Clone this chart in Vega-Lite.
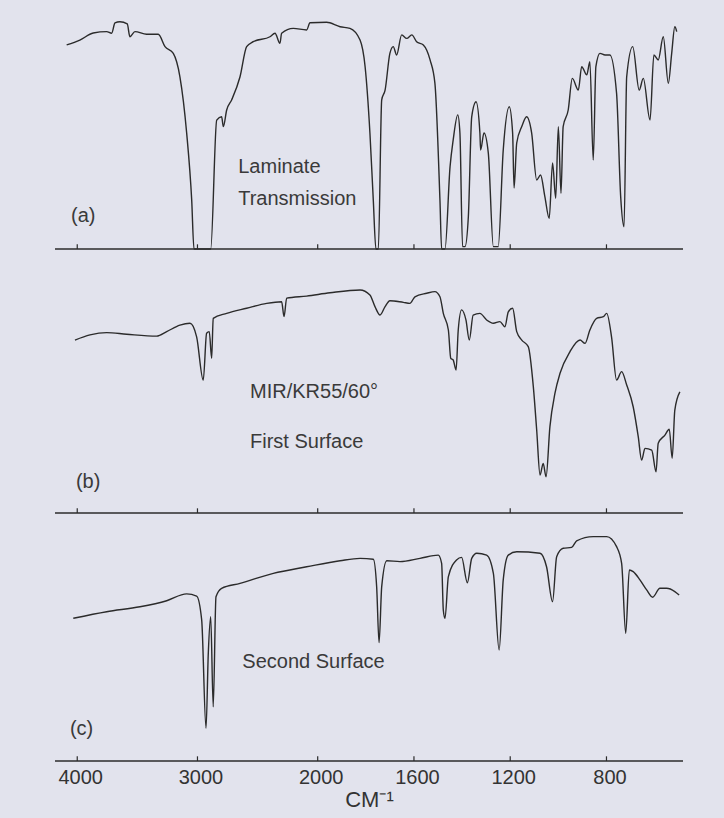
{
  "$schema": "https://vega.github.io/schema/vega-lite/v6.json",
  "width": 628,
  "height": 751,
  "autosize": "none",
  "padding": {"left": 55, "top": 10, "right": 41, "bottom": 57},
  "background": "#e2e3ed",
  "config": {
    "view": {"stroke": null},
    "font": "Liberation Sans",
    "axisX": {
      "domain": false, "ticks": false, "grid": false, "format": "d",
      "labelFont": "Liberation Sans", "labelFontSize": 20, "labelColor": "#333333",
      "labelPadding": 6, "labelOffset": 3, "labelOverlap": false, "labelFlush": false,
      "titleFont": "Liberation Sans", "titleFontSize": 22, "titleFontWeight": "normal",
      "titleColor": "#333333", "titlePadding": 2
    }
  },
  "datasets": {
    "a": [
      {"wn": 4088, "T": 87.2}, {"wn": 3978, "T": 89.3}, {"wn": 3867, "T": 92.3}, {"wn": 3755, "T": 92.9},
      {"wn": 3714, "T": 92.2}, {"wn": 3686, "T": 96.6}, {"wn": 3645, "T": 97.1}, {"wn": 3584, "T": 96.2},
      {"wn": 3562, "T": 90.7}, {"wn": 3520, "T": 92.9}, {"wn": 3423, "T": 91.8}, {"wn": 3326, "T": 91.8},
      {"wn": 3270, "T": 86.5}, {"wn": 3201, "T": 83.6}, {"wn": 3146, "T": 73.6}, {"wn": 3090, "T": 49.6},
      {"wn": 3048, "T": 20.9}, {"wn": 3029, "T": 0}, {"wn": 2890, "T": 0}, {"wn": 2840, "T": 55.1},
      {"wn": 2799, "T": 56.5}, {"wn": 2785, "T": 52.3}, {"wn": 2757, "T": 59.4}, {"wn": 2716, "T": 63.7},
      {"wn": 2646, "T": 73.6}, {"wn": 2591, "T": 86.5}, {"wn": 2536, "T": 88.6}, {"wn": 2397, "T": 90.7},
      {"wn": 2355, "T": 92.2}, {"wn": 2314, "T": 87.9}, {"wn": 2300, "T": 92.2}, {"wn": 2203, "T": 94.3},
      {"wn": 2092, "T": 93.6}, {"wn": 2064, "T": 96.7}, {"wn": 1963, "T": 96.9}, {"wn": 1907, "T": 95.0},
      {"wn": 1866, "T": 94.3}, {"wn": 1824, "T": 89.3}, {"wn": 1803, "T": 77.9}, {"wn": 1783, "T": 49.6},
      {"wn": 1769, "T": 20.9}, {"wn": 1758, "T": 0}, {"wn": 1748, "T": 0}, {"wn": 1734, "T": 63.7},
      {"wn": 1720, "T": 67.9}, {"wn": 1700, "T": 83.6}, {"wn": 1686, "T": 86.5}, {"wn": 1672, "T": 82.9},
      {"wn": 1651, "T": 91.5}, {"wn": 1630, "T": 90.0}, {"wn": 1609, "T": 91.5}, {"wn": 1589, "T": 88.6},
      {"wn": 1561, "T": 87.2}, {"wn": 1533, "T": 80.8}, {"wn": 1513, "T": 70.9}, {"wn": 1492, "T": 20.9},
      {"wn": 1485, "T": 0}, {"wn": 1471, "T": 0}, {"wn": 1450, "T": 35.2}, {"wn": 1437, "T": 46.6},
      {"wn": 1418, "T": 57.3}, {"wn": 1409, "T": 49.6}, {"wn": 1398, "T": 1}, {"wn": 1388, "T": 1},
      {"wn": 1374, "T": 13.8}, {"wn": 1360, "T": 56.5}, {"wn": 1342, "T": 62.9}, {"wn": 1326, "T": 49.6},
      {"wn": 1323, "T": 42.3}, {"wn": 1309, "T": 49.6}, {"wn": 1291, "T": 41.0}, {"wn": 1270, "T": 1},
      {"wn": 1250, "T": 1}, {"wn": 1229, "T": 42.3}, {"wn": 1204, "T": 60.8}, {"wn": 1190, "T": 49.6},
      {"wn": 1184, "T": 26.1}, {"wn": 1173, "T": 45.3}, {"wn": 1152, "T": 52.3}, {"wn": 1132, "T": 56.5},
      {"wn": 1111, "T": 49.6}, {"wn": 1090, "T": 29.5}, {"wn": 1074, "T": 31.6}, {"wn": 1056, "T": 22.4},
      {"wn": 1038, "T": 13.1}, {"wn": 1024, "T": 36.8}, {"wn": 1011, "T": 21.7}, {"wn": 1000, "T": 52.3},
      {"wn": 989, "T": 23.8}, {"wn": 980, "T": 52.3}, {"wn": 959, "T": 59.4}, {"wn": 942, "T": 72.9},
      {"wn": 917, "T": 67.9}, {"wn": 903, "T": 77.9}, {"wn": 882, "T": 74.4}, {"wn": 869, "T": 80.0},
      {"wn": 855, "T": 38.0}, {"wn": 844, "T": 77.9}, {"wn": 827, "T": 83.6}, {"wn": 806, "T": 82.9},
      {"wn": 786, "T": 82.9}, {"wn": 758, "T": 66.5}, {"wn": 741, "T": 22.4}, {"wn": 727, "T": 9.5},
      {"wn": 716, "T": 73.6}, {"wn": 691, "T": 86.5}, {"wn": 664, "T": 67.9}, {"wn": 647, "T": 72.9},
      {"wn": 619, "T": 55.1}, {"wn": 603, "T": 82.9}, {"wn": 585, "T": 80.8}, {"wn": 564, "T": 90.7},
      {"wn": 543, "T": 70.8}, {"wn": 529, "T": 83.6}, {"wn": 516, "T": 95.0}, {"wn": 508, "T": 92.9}
    ],
    "b": [
      {"wn": 4019, "T": 73.9}, {"wn": 3894, "T": 76.1}, {"wn": 3755, "T": 77.1}, {"wn": 3589, "T": 76.4},
      {"wn": 3339, "T": 75.6}, {"wn": 3256, "T": 77.5}, {"wn": 3146, "T": 80.3}, {"wn": 3062, "T": 81.1},
      {"wn": 3007, "T": 75.3}, {"wn": 2952, "T": 56.8}, {"wn": 2924, "T": 76.8}, {"wn": 2902, "T": 77.5},
      {"wn": 2882, "T": 66.1}, {"wn": 2869, "T": 83.2}, {"wn": 2757, "T": 85.3}, {"wn": 2591, "T": 87.5},
      {"wn": 2424, "T": 89.6}, {"wn": 2300, "T": 90.3}, {"wn": 2280, "T": 83.9}, {"wn": 2258, "T": 91.8},
      {"wn": 2092, "T": 92.7}, {"wn": 1949, "T": 94.1}, {"wn": 1824, "T": 95.3}, {"wn": 1783, "T": 93.2},
      {"wn": 1762, "T": 88.2}, {"wn": 1741, "T": 84.6}, {"wn": 1720, "T": 88.2}, {"wn": 1700, "T": 90.7},
      {"wn": 1644, "T": 90.0}, {"wn": 1617, "T": 89.6}, {"wn": 1596, "T": 92.4}, {"wn": 1547, "T": 93.9},
      {"wn": 1513, "T": 94.6}, {"wn": 1492, "T": 92.4}, {"wn": 1478, "T": 85.3}, {"wn": 1457, "T": 78.2},
      {"wn": 1447, "T": 66.1}, {"wn": 1437, "T": 65.4}, {"wn": 1425, "T": 61.1}, {"wn": 1416, "T": 78.2},
      {"wn": 1402, "T": 86.8}, {"wn": 1384, "T": 82.5}, {"wn": 1370, "T": 73.9}, {"wn": 1354, "T": 84.6},
      {"wn": 1326, "T": 85.3}, {"wn": 1298, "T": 82.5}, {"wn": 1270, "T": 81.1}, {"wn": 1243, "T": 81.8},
      {"wn": 1222, "T": 79.6}, {"wn": 1208, "T": 86.0}, {"wn": 1190, "T": 87.5}, {"wn": 1173, "T": 77.5},
      {"wn": 1152, "T": 73.9}, {"wn": 1125, "T": 71.1}, {"wn": 1104, "T": 54.0}, {"wn": 1090, "T": 35.5},
      {"wn": 1076, "T": 16.2}, {"wn": 1063, "T": 21.2}, {"wn": 1051, "T": 15.5}, {"wn": 1035, "T": 36.9},
      {"wn": 1014, "T": 51.2}, {"wn": 993, "T": 59.7}, {"wn": 952, "T": 68.9}, {"wn": 910, "T": 73.9},
      {"wn": 889, "T": 72.5}, {"wn": 869, "T": 78.2}, {"wn": 841, "T": 83.2}, {"wn": 813, "T": 83.9},
      {"wn": 799, "T": 85.3}, {"wn": 779, "T": 75.3}, {"wn": 758, "T": 56.8}, {"wn": 737, "T": 60.4},
      {"wn": 716, "T": 54.7}, {"wn": 689, "T": 45.4}, {"wn": 668, "T": 32.6}, {"wn": 654, "T": 22.6},
      {"wn": 640, "T": 27.6}, {"wn": 612, "T": 26.9}, {"wn": 594, "T": 17.6}, {"wn": 585, "T": 29.8},
      {"wn": 557, "T": 33.3}, {"wn": 539, "T": 35.8}, {"wn": 527, "T": 23.4}, {"wn": 516, "T": 44.0},
      {"wn": 495, "T": 51.8}
    ],
    "c": [
      {"wn": 4033, "T": 61.0}, {"wn": 3755, "T": 63.8}, {"wn": 3478, "T": 65.9}, {"wn": 3256, "T": 68.5},
      {"wn": 3090, "T": 71.4}, {"wn": 3007, "T": 70.5}, {"wn": 2965, "T": 60.3}, {"wn": 2929, "T": 14.0},
      {"wn": 2910, "T": 46.0}, {"wn": 2890, "T": 61.7}, {"wn": 2869, "T": 23.2}, {"wn": 2846, "T": 70.2},
      {"wn": 2799, "T": 73.8}, {"wn": 2646, "T": 75.9}, {"wn": 2369, "T": 80.2}, {"wn": 2092, "T": 83.0},
      {"wn": 1907, "T": 85.6}, {"wn": 1824, "T": 86.6}, {"wn": 1769, "T": 86.2}, {"wn": 1755, "T": 74.5},
      {"wn": 1745, "T": 50.6}, {"wn": 1734, "T": 74.5}, {"wn": 1713, "T": 85.6}, {"wn": 1658, "T": 85.2},
      {"wn": 1575, "T": 86.6}, {"wn": 1499, "T": 88.0}, {"wn": 1485, "T": 84.5}, {"wn": 1478, "T": 64.5},
      {"wn": 1471, "T": 61.0}, {"wn": 1457, "T": 78.8}, {"wn": 1423, "T": 85.9}, {"wn": 1402, "T": 87.0},
      {"wn": 1378, "T": 76.2}, {"wn": 1360, "T": 86.6}, {"wn": 1339, "T": 88.8}, {"wn": 1298, "T": 88.0},
      {"wn": 1270, "T": 80.2}, {"wn": 1246, "T": 47.4}, {"wn": 1229, "T": 77.4}, {"wn": 1208, "T": 88.0},
      {"wn": 1173, "T": 89.4}, {"wn": 1076, "T": 88.8}, {"wn": 1049, "T": 83.0}, {"wn": 1024, "T": 68.1},
      {"wn": 1007, "T": 87.3}, {"wn": 980, "T": 90.9}, {"wn": 945, "T": 91.3}, {"wn": 924, "T": 94.1},
      {"wn": 855, "T": 95.9}, {"wn": 799, "T": 95.9}, {"wn": 758, "T": 91.6}, {"wn": 737, "T": 84.5},
      {"wn": 720, "T": 54.6}, {"wn": 705, "T": 81.6}, {"wn": 689, "T": 80.9}, {"wn": 661, "T": 77.4},
      {"wn": 633, "T": 73.1}, {"wn": 608, "T": 70.0}, {"wn": 578, "T": 73.8}, {"wn": 550, "T": 73.8},
      {"wn": 516, "T": 72.4}, {"wn": 498, "T": 70.9}
    ],
    "ticks": [{"wn": 4000}, {"wn": 3000}, {"wn": 2000}, {"wn": 1600}, {"wn": 1200}, {"wn": 800}],
    "notes": [
      {"panel": "a", "wn": 2661, "T": 32.4, "text": "Laminate"},
      {"panel": "a", "wn": 2661, "T": 18.8, "text": "Transmission"},
      {"panel": "a", "wn": 4052, "T": 11.7, "text": "(a)"},
      {"panel": "b", "wn": 2563, "T": 49.3, "text": "MIR/KR55/60°"},
      {"panel": "b", "wn": 2563, "T": 27.6, "text": "First Surface"},
      {"panel": "b", "wn": 4011, "T": 10.7, "text": "(b)"},
      {"panel": "c", "wn": 2627, "T": 39.7, "text": "Second Surface"},
      {"panel": "c", "wn": 4061, "T": 11.1, "text": "(c)"}
    ]
  },
  "layer": [
    {
      "layer": [
        {
          "data": {"name": "a"},
          "mark": {"type": "line", "color": "#2b2b2b", "strokeWidth": 1.4, "strokeJoin": "round", "interpolate": "monotone"},
          "encoding": {
            "x": {"field": "wn", "type": "quantitative", "scale": {"domain": [4185, 2000, 482], "range": [0, 262.7, 628], "nice": false, "zero": false}},
            "y": {"field": "T", "type": "quantitative", "scale": {"domain": [0, 100], "range": [239, 5], "nice": false, "zero": false}, "axis": null}
          }
        },
        {
          "data": {"values": [{}]},
          "mark": {"type": "rule", "color": "#2b2b2b", "strokeWidth": 1.6},
          "encoding": {"y": {"datum": 0, "type": "quantitative", "axis": null}}
        },
        {
          "data": {"name": "ticks"},
          "mark": {"type": "rule", "color": "#2b2b2b", "strokeWidth": 1.2},
          "encoding": {
            "x": {"field": "wn", "type": "quantitative"},
            "y": {"datum": 0, "type": "quantitative", "axis": null},
            "y2": {"datum": 2}
          }
        },
        {
          "data": {"name": "notes"},
          "transform": [{"filter": "datum.panel === 'a'"}],
          "mark": {"type": "text", "align": "left", "baseline": "alphabetic", "font": "Liberation Sans", "fontSize": 20, "color": "#3a3a3a"},
          "encoding": {
            "x": {"field": "wn", "type": "quantitative"},
            "y": {"field": "T", "type": "quantitative", "axis": null},
            "text": {"field": "text"}
          }
        }
      ]
    },
    {
      "layer": [
        {
          "data": {"name": "b"},
          "mark": {"type": "line", "color": "#2b2b2b", "strokeWidth": 1.4, "strokeJoin": "round", "interpolate": "monotone"},
          "encoding": {
            "x": {"field": "wn", "type": "quantitative"},
            "y": {"field": "T", "type": "quantitative", "scale": {"domain": [0, 100], "range": [503, 269], "nice": false, "zero": false}, "axis": null}
          }
        },
        {
          "data": {"values": [{}]},
          "mark": {"type": "rule", "color": "#2b2b2b", "strokeWidth": 1.6},
          "encoding": {"y": {"datum": 0, "type": "quantitative", "axis": null}}
        },
        {
          "data": {"name": "ticks"},
          "mark": {"type": "rule", "color": "#2b2b2b", "strokeWidth": 1.2},
          "encoding": {
            "x": {"field": "wn", "type": "quantitative"},
            "y": {"datum": 0, "type": "quantitative", "axis": null},
            "y2": {"datum": 2}
          }
        },
        {
          "data": {"name": "notes"},
          "transform": [{"filter": "datum.panel === 'b'"}],
          "mark": {"type": "text", "align": "left", "baseline": "alphabetic", "font": "Liberation Sans", "fontSize": 20, "color": "#3a3a3a"},
          "encoding": {
            "x": {"field": "wn", "type": "quantitative"},
            "y": {"field": "T", "type": "quantitative", "axis": null},
            "text": {"field": "text"}
          }
        }
      ]
    },
    {
      "layer": [
        {
          "data": {"name": "c"},
          "mark": {"type": "line", "color": "#2b2b2b", "strokeWidth": 1.4, "strokeJoin": "round", "interpolate": "monotone"},
          "encoding": {
            "x": {
              "field": "wn", "type": "quantitative",
              "axis": {"values": [4000, 3000, 2000, 1600, 1200, 800], "title": "CM⁻¹"}
            },
            "y": {"field": "T", "type": "quantitative", "scale": {"domain": [0, 100], "range": [751, 517], "nice": false, "zero": false}, "axis": null}
          }
        },
        {
          "data": {"values": [{}]},
          "mark": {"type": "rule", "color": "#2b2b2b", "strokeWidth": 1.6},
          "encoding": {"y": {"datum": 0, "type": "quantitative", "axis": null}}
        },
        {
          "data": {"name": "ticks"},
          "mark": {"type": "rule", "color": "#2b2b2b", "strokeWidth": 1.2},
          "encoding": {
            "x": {"field": "wn", "type": "quantitative"},
            "y": {"datum": 0, "type": "quantitative", "axis": null},
            "y2": {"datum": 2}
          }
        },
        {
          "data": {"name": "notes"},
          "transform": [{"filter": "datum.panel === 'c'"}],
          "mark": {"type": "text", "align": "left", "baseline": "alphabetic", "font": "Liberation Sans", "fontSize": 20, "color": "#3a3a3a"},
          "encoding": {
            "x": {"field": "wn", "type": "quantitative"},
            "y": {"field": "T", "type": "quantitative", "axis": null},
            "text": {"field": "text"}
          }
        }
      ]
    }
  ],
  "resolve": {"scale": {"y": "independent"}, "axis": {"y": "independent"}}
}
